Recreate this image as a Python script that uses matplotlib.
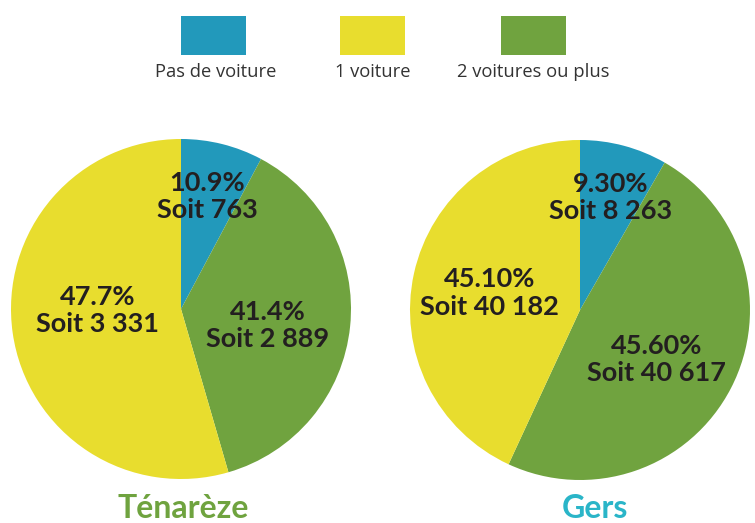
import matplotlib.pyplot as plt
from matplotlib.patches import Rectangle

# categories, in the order they are drawn (clockwise from 12 o'clock)
categories = ['Pas de voiture', '2 voitures ou plus', '1 voiture']
colors = ['#2299bb', '#70a33f', '#e8dd2e']

# slice shares as drawn in the picture (%)
parts_tenareze = [7.8, 37.7, 54.5]
parts_gers = [8.3, 48.6, 43.1]

# printed labels
pct_tenareze = ['10.9%', '41.4%', '47.7%']
nb_tenareze = ['763', '2 889', '3 331']
pct_gers = ['9.30%', '45.60%', '45.10%']
nb_gers = ['8 263', '40 617', '40 182']

W, H = 755, 523
fig = plt.figure(figsize=(W / 100, H / 100), dpi=100)


def pie_axes(x0, y0, size):
    # pixel box (top-left origin) -> figure fraction
    return fig.add_axes([x0 / W, (H - y0 - size) / H, size / W, size / H])


# label positions in pie units (radius = 1)
pos_tenareze = [(0.155, 0.66), (0.51, -0.095), (-0.49, -0.01)]
pos_gers = [(0.18, 0.66), (0.45, -0.29), (-0.53, 0.10)]

for box, parts, pcts, nbs, pos in [
        ((11, 139, 340), parts_tenareze, pct_tenareze, nb_tenareze, pos_tenareze),
        ((410, 140, 340), parts_gers, pct_gers, nb_gers, pos_gers)]:
    ax = pie_axes(*box)
    ax.pie(parts, colors=colors, startangle=90, counterclock=False, radius=1,
           wedgeprops=dict(linewidth=0))
    ax.set_xlim(-1, 1)
    ax.set_ylim(-1, 1)
    ax.set_aspect('equal')
    ax.axis('off')
    for p, n, (x, y) in zip(pcts, nbs, pos):
        ax.text(x, y, p + '\nSoit ' + n, ha='center', va='center',
                fontsize=19.5, fontweight='bold', family='Lato', color='#231f20',
                linespacing=1.16)

# overlay in pixel coords for legend and titles
ov = fig.add_axes([0, 0, 1, 1])
ov.set_xlim(0, W)
ov.set_ylim(H, 0)
ov.axis('off')

leg_boxes = [181, 340, 501]
leg_names = ['Pas de voiture', '1 voiture', '2 voitures ou plus']
leg_colors = ['#2299bb', '#e8dd2e', '#70a33f']
leg_text_x = [216, 373, 533]
for x, name, c, tx in zip(leg_boxes, leg_names, leg_colors, leg_text_x):
    ov.add_patch(Rectangle((x, 16), 65, 39, color=c, lw=0))
    ov.text(tx, 72, name, ha='center', va='center', fontsize=13.2,
            family='Open Sans', color='#333333')

ov.text(183, 508, 'Ténarèze', ha='center', va='center', fontsize=23,
        fontweight='bold', family='Lato', color='#6fa33f')
ov.text(595, 508, 'Gers', ha='center', va='center', fontsize=23,
        fontweight='bold', family='Lato', color='#2ab5c8')

fig.savefig('out.png', dpi=100)
